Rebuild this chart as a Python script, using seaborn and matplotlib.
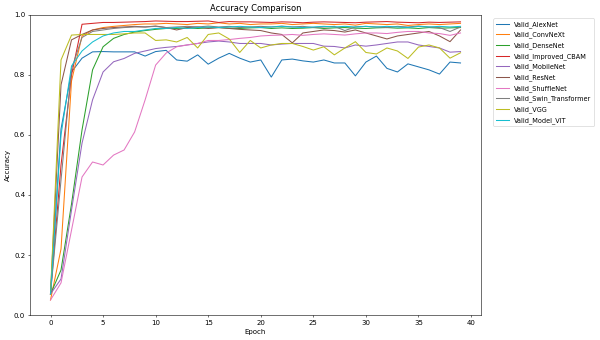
import numpy as np
import pandas as pd
import matplotlib
matplotlib.use("Agg")
import matplotlib.pyplot as plt
import seaborn as sns

epochs = list(range(40))

alexnet = [0.07, 0.62, 0.81, 0.856, 0.877, 0.878, 0.877, 0.877, 0.877, 0.863, 0.878, 0.882, 0.85, 0.846, 0.867, 0.836,
           0.856, 0.872, 0.856, 0.843, 0.85, 0.793, 0.85, 0.853, 0.847, 0.843, 0.85, 0.84, 0.84, 0.797,
           0.843, 0.863, 0.822, 0.81, 0.837, 0.827, 0.817, 0.803, 0.843, 0.84]
convnext = [0.05, 0.22, 0.78, 0.93, 0.95, 0.958, 0.962, 0.965, 0.968, 0.97, 0.97, 0.972, 0.97, 0.968, 0.972, 0.97,
            0.974, 0.97, 0.972, 0.968, 0.97, 0.97, 0.972, 0.968, 0.97, 0.972, 0.97, 0.968, 0.97, 0.966,
            0.972, 0.97, 0.968, 0.97, 0.965, 0.968, 0.97, 0.968, 0.97, 0.972]
densenet = [0.07, 0.15, 0.37, 0.617, 0.817, 0.894, 0.922, 0.935, 0.943, 0.948, 0.952, 0.955, 0.955, 0.957, 0.955, 0.957,
            0.958, 0.956, 0.955, 0.957, 0.958, 0.955, 0.957, 0.955, 0.956, 0.958, 0.955, 0.957, 0.958, 0.956,
            0.955, 0.957, 0.958, 0.956, 0.957, 0.955, 0.958, 0.956, 0.957, 0.958]
improved_cbam = [0.07, 0.5, 0.8, 0.969, 0.972, 0.975, 0.975, 0.976, 0.977, 0.978, 0.98, 0.979, 0.978, 0.978, 0.979, 0.98,
                 0.975, 0.978, 0.977, 0.977, 0.976, 0.975, 0.977, 0.976, 0.974, 0.976, 0.977, 0.976, 0.975, 0.974,
                 0.976, 0.977, 0.978, 0.976, 0.975, 0.974, 0.976, 0.975, 0.976, 0.977]
mobilenet = [0.07, 0.12, 0.35, 0.573, 0.717, 0.81, 0.844, 0.855, 0.872, 0.88, 0.888, 0.892, 0.895, 0.9, 0.905, 0.91,
             0.913, 0.91, 0.905, 0.905, 0.905, 0.9, 0.903, 0.905, 0.905, 0.905, 0.896, 0.895, 0.89, 0.9,
             0.896, 0.9, 0.905, 0.91, 0.91, 0.9, 0.895, 0.89, 0.876, 0.878]
resnet = [0.07, 0.767, 0.917, 0.935, 0.95, 0.955, 0.958, 0.96, 0.962, 0.96, 0.963, 0.958, 0.95, 0.958, 0.96, 0.955,
          0.958, 0.955, 0.952, 0.95, 0.948, 0.94, 0.935, 0.907, 0.94, 0.945, 0.95, 0.948, 0.943, 0.95,
          0.94, 0.93, 0.92, 0.93, 0.935, 0.94, 0.945, 0.93, 0.911, 0.95]
shufflenet = [0.05, 0.107, 0.283, 0.46, 0.51, 0.5, 0.533, 0.55, 0.61, 0.717, 0.833, 0.873, 0.894, 0.9, 0.905, 0.915,
              0.915, 0.918, 0.922, 0.925, 0.93, 0.932, 0.933, 0.935, 0.932, 0.935, 0.937, 0.935, 0.933, 0.937,
              0.94, 0.94, 0.938, 0.942, 0.945, 0.945, 0.94, 0.938, 0.932, 0.94]
swin = [0.07, 0.45, 0.82, 0.925, 0.945, 0.95, 0.955, 0.958, 0.96, 0.96, 0.962, 0.958, 0.96, 0.962, 0.96, 0.963,
        0.96, 0.962, 0.958, 0.96, 0.962, 0.96, 0.963, 0.96, 0.962, 0.958, 0.96, 0.962, 0.948, 0.96,
        0.962, 0.96, 0.958, 0.962, 0.96, 0.963, 0.96, 0.958, 0.945, 0.96]
vgg = [0.07, 0.85, 0.933, 0.935, 0.935, 0.935, 0.935, 0.937, 0.94, 0.94, 0.915, 0.917, 0.91, 0.925, 0.89, 0.935,
       0.94, 0.92, 0.875, 0.915, 0.89, 0.9, 0.905, 0.905, 0.895, 0.883, 0.894, 0.867, 0.89, 0.911,
       0.875, 0.87, 0.89, 0.88, 0.855, 0.893, 0.9, 0.89, 0.856, 0.874]
vit = [0.07, 0.6, 0.83, 0.88, 0.91, 0.93, 0.94, 0.945, 0.945, 0.95, 0.955, 0.955, 0.958, 0.955, 0.958, 0.96,
       0.958, 0.96, 0.962, 0.96, 0.958, 0.96, 0.962, 0.96, 0.958, 0.96, 0.962, 0.96, 0.962, 0.96,
       0.962, 0.96, 0.962, 0.96, 0.958, 0.962, 0.96, 0.962, 0.96, 0.962]

labels = ["Valid_AlexNet", "Valid_ConvNeXt", "Valid_DenseNet", "Valid_Improved_CBAM", "Valid_MobileNet",
          "Valid_ResNet", "Valid_ShuffleNet", "Valid_Swin_Transformer", "Valid_VGG", "Valid_Model_VIT"]
series = [alexnet, convnext, densenet, improved_cbam, mobilenet, resnet, shufflenet, swin, vgg, vit]

frames = []
for lab, vals in zip(labels, series):
    frames.append(pd.DataFrame({"Epoch": epochs, "Accuracy": vals, "Model": lab}))
df = pd.concat(frames, ignore_index=True)

fig = plt.figure(figsize=(12, 6.8), dpi=50)
ax = fig.add_axes([0.05, 0.0735, 0.7517, 0.8825])
sns.lineplot(data=df, x="Epoch", y="Accuracy", hue="Model", hue_order=labels,
             palette="tab10", ax=ax, linewidth=1.5)
ax.set_ylim(0, 1.0)
ax.set_title("Accuracy Comparison")
ax.set_xlabel("Epoch")
ax.set_ylabel("Accuracy")
ax.legend(loc="upper left", bbox_to_anchor=(1.02, 1.0), fontsize=9.4, labelspacing=0.6)
fig.savefig("out.png", dpi=50)
